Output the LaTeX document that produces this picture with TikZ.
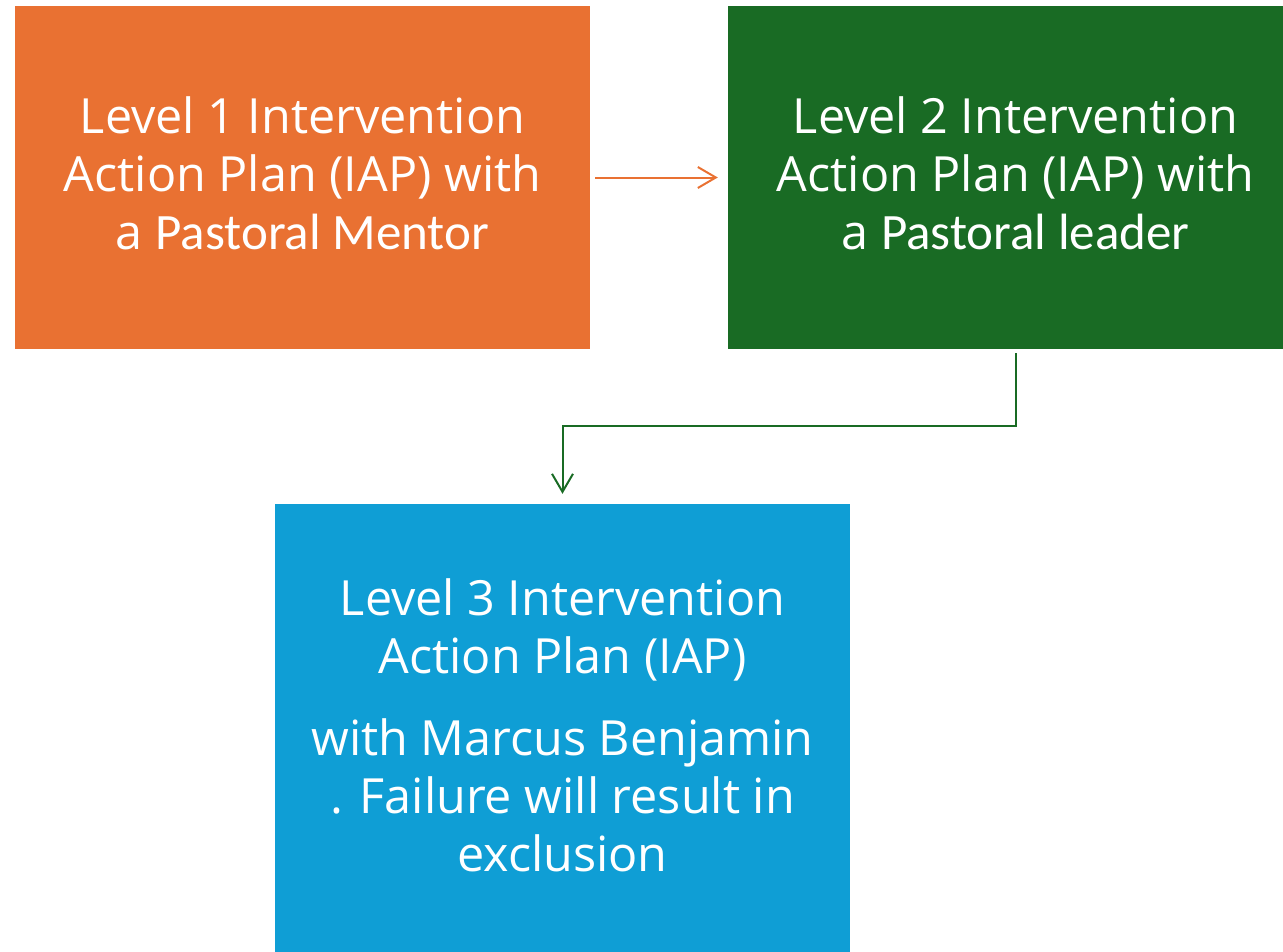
\documentclass[tikz,border=0pt]{standalone}
\usepackage{fontspec}
\setmainfont{Open Sans}
\newfontfamily\calib{Carlito}
\usetikzlibrary{arrows.meta}
\definecolor{orangeA}{HTML}{E97132}
\definecolor{greenA}{HTML}{196B24}
\definecolor{blueA}{HTML}{0F9ED5}
\tikzset{
  box/.style={rectangle, minimum width=575pt, inner sep=0pt, text=white, align=center,
    font=\fontsize{48.5}{58}\selectfont},
  conn/.style={line width=2pt, -{Straight Barb[length=18pt,width=21pt,line width=2pt]}}
}
\begin{document}
\begin{tikzpicture}[x=1pt,y=-1pt]
\useasboundingbox (0,0) rectangle (1283,951);
\clip (0,0) rectangle (1283,951);
\node[box, fill=orangeA, minimum height=343pt] (l1) at (302.5,177.5) {};
\node[box, fill=greenA, minimum height=343pt] (l2) at (1015.5,177.5) {};
\node[box, fill=blueA, minimum height=450pt] (l3) at (562.5,729) {};
\node[box, anchor=center] (t1) at (302.5,173)
  {Level 1 Intervention\\Action Plan (IAP) with\\a {\calib\fontsize{51}{58}\selectfont Pastoral Mentor}};
\node[box, anchor=center] (t2) at (1015.5,173)
  {Level 2 Intervention\\Action Plan (IAP) with\\a {\calib\fontsize{51}{58}\selectfont Pastoral leader}};
\node[box, anchor=center] (t3) at (562.5,725)
  {Level 3 Intervention\\Action Plan (IAP)\\[24pt]with Marcus Benjamin\\. Failure will result in\\exclusion};
\draw[conn, draw=orangeA, shorten <=5pt, shorten >=10pt] (l1.east) -- (l2.west);
\draw[conn, draw=greenA, shorten <=4pt, shorten >=10pt] (l2.south) -- ++(0,77) -| (l3.north);
\end{tikzpicture}
\end{document}
